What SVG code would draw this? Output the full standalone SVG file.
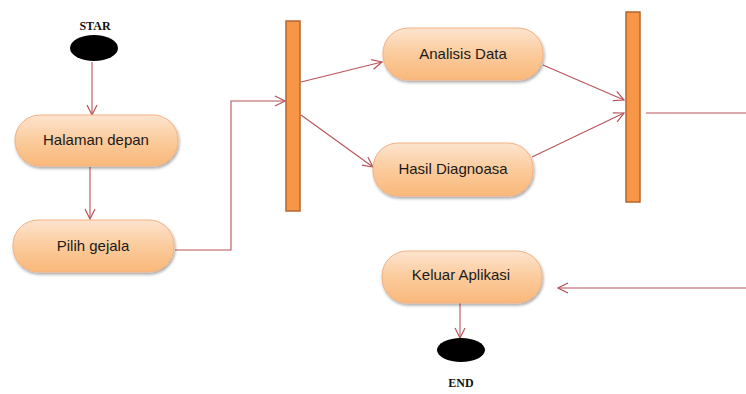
<svg xmlns="http://www.w3.org/2000/svg" width="746" height="394" viewBox="0 0 746 394">
<defs>
<linearGradient id="g" x1="0" y1="0" x2="0" y2="1">
<stop offset="0" stop-color="#FDE4CF"/>
<stop offset="0.5" stop-color="#FBCB9C"/>
<stop offset="1" stop-color="#F9B87A"/>
</linearGradient>
<filter id="sh" x="-10%" y="-10%" width="125%" height="135%">
<feGaussianBlur in="SourceAlpha" stdDeviation="1.5"/>
<feOffset dx="1" dy="2" result="b"/>
<feComponentTransfer><feFuncA type="linear" slope="0.35"/></feComponentTransfer>
<feMerge><feMergeNode/><feMergeNode in="SourceGraphic"/></feMerge>
</filter>
<marker id="arr" viewBox="0 0 12 12" refX="11" refY="6" markerWidth="12" markerHeight="12" markerUnits="userSpaceOnUse" orient="auto">
<path d="M1,1 L11,6 L1,11" fill="none" stroke="#B8545A" stroke-width="1.2"/>
</marker>
</defs>
<style>
.box{fill:url(#g);stroke:#F4B183;stroke-width:1;filter:url(#sh)}
.lbl{font-family:"Liberation Sans",Arial,sans-serif;font-size:15px;fill:#1a1a1a;text-anchor:middle}
.term{font-family:"Liberation Serif","Times New Roman",serif;font-size:12px;font-weight:bold;fill:#111;text-anchor:middle}
.bar{fill:#F79646;stroke:#B4662E;stroke-width:1.5}
.c{fill:none;stroke:#B8545A;stroke-width:1.1}
</style>
<rect width="746" height="394" fill="#ffffff"/>
<g id="connectors">
<path class="c" d="M92,62 L92,115" marker-end="url(#arr)"/>
<path class="c" d="M90,167 L90,219" marker-end="url(#arr)"/>
<path class="c" d="M175,250 L231,250 L231,101 L285,101" marker-end="url(#arr)"/>
<path class="c" d="M301,82 L382,62" marker-end="url(#arr)"/>
<path class="c" d="M301,115 L373,167" marker-end="url(#arr)"/>
<path class="c" d="M543,65 L624,100" marker-end="url(#arr)"/>
<path class="c" d="M532,157 L624,113" marker-end="url(#arr)"/>
<path class="c" d="M646,113 L746,113"/>
<path class="c" d="M746,288 L558,288" marker-end="url(#arr)"/>
<path class="c" d="M460,303 L460,338" marker-end="url(#arr)"/>
</g>
<g id="start">
<text class="term" x="95" y="30">STAR</text>
<ellipse cx="94" cy="48" rx="24" ry="13" fill="#000"/>
</g>
<g id="halaman-depan">
<rect class="box" x="15" y="115" width="163" height="51" rx="25" ry="25"/>
<text class="lbl" x="96" y="145">Halaman depan</text>
</g>
<g id="pilih-gejala">
<rect class="box" x="13" y="220" width="161" height="52" rx="25" ry="25"/>
<text class="lbl" x="93" y="251">Pilih gejala</text>
</g>
<g id="fork">
<rect class="bar" x="286" y="21" width="14" height="190"/>
</g>
<g id="analisis-data">
<rect class="box" x="383" y="28" width="160" height="52" rx="25" ry="25"/>
<text class="lbl" x="463" y="59">Analisis Data</text>
</g>
<g id="hasil-diagnoasa">
<rect class="box" x="373" y="143" width="160" height="53" rx="25" ry="25"/>
<text class="lbl" x="453" y="174">Hasil Diagnoasa</text>
</g>
<g id="join">
<rect class="bar" x="626" y="12" width="14" height="190"/>
</g>
<g id="keluar-aplikasi">
<rect class="box" x="382" y="251" width="160" height="52" rx="25" ry="25"/>
<text class="lbl" x="461" y="280">Keluar Aplikasi</text>
</g>
<g id="end">
<ellipse cx="461" cy="350" rx="24" ry="12" fill="#000"/>
<text class="term" x="461" y="387">END</text>
</g>
</svg>
